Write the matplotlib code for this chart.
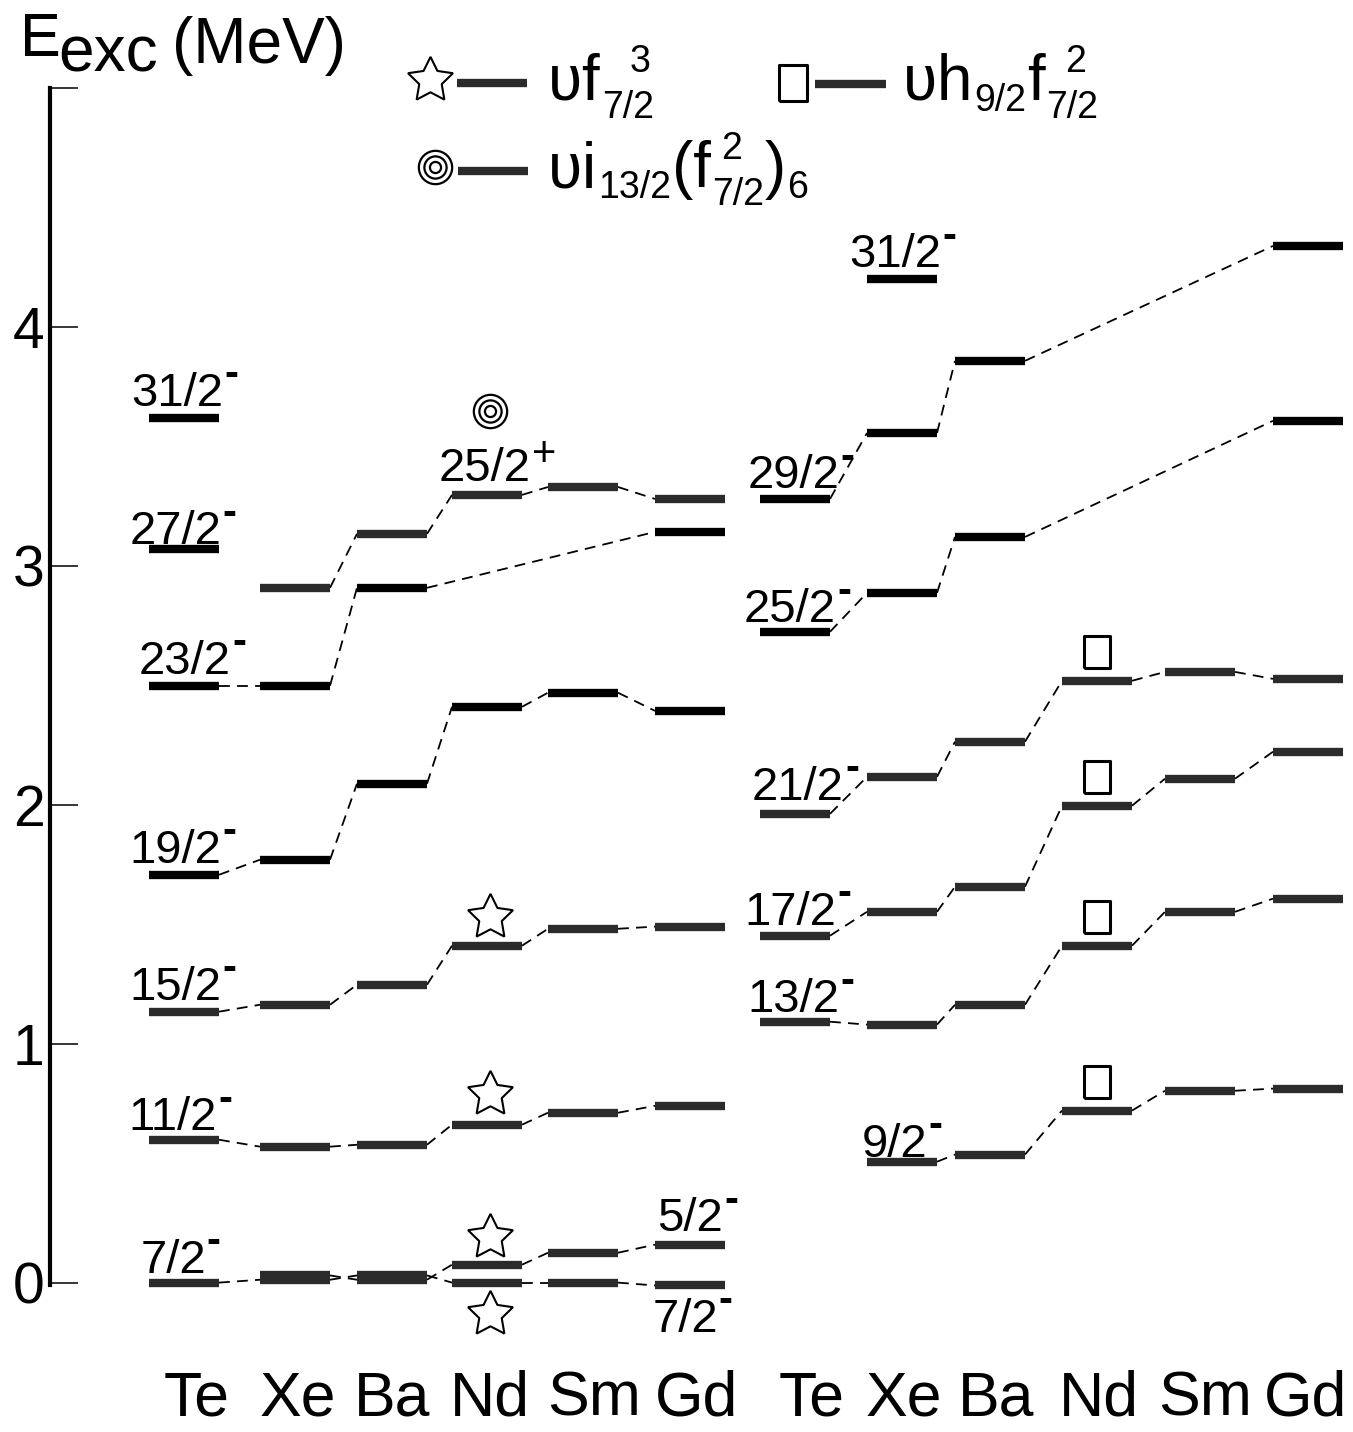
import matplotlib
matplotlib.use('Agg')
import matplotlib.pyplot as plt

plt.rcParams['font.family'] = ['Liberation Sans', 'DejaVu Sans']

# nuclei (columns) of both panels
nuclei = ['Te', 'Xe', 'Ba', 'Nd', 'Sm', 'Gd']

# level energies (MeV), left panel, one value per nucleus (None = not shown)
L7 = [0.0, 0.012, 0.03, 0.0, 0.0, -0.012]
L5 = [None, 0.03, 0.012, 0.075, 0.125, 0.159]
L11 = [0.598, 0.569, 0.577, 0.661, 0.711, 0.740]
L15 = [1.134, 1.163, 1.247, 1.410, 1.481, 1.490]
L19 = [1.707, 1.770, 2.088, 2.410, 2.469, 2.393]
L23 = [2.498, 2.498, 2.908, None, None, 3.142]
L25p = [None, 2.908, 3.134, 3.297, 3.330, 3.280]
L27 = [3.071, None, None, None, None, None]
L31 = [3.619, None, None, None, None, None]

# right panel
R9 = [None, 0.506, 0.536, 0.720, 0.803, 0.812]
R13 = [1.092, 1.080, 1.163, 1.410, 1.552, 1.607]
R17 = [1.452, 1.552, 1.657, 1.996, 2.109, 2.222]
R21 = [1.962, 2.117, 2.264, 2.519, 2.556, 2.527]
R25 = [2.724, 2.887, 3.121, None, None, 3.607]
R29 = [3.280, 3.556, 3.858, None, None, 4.339]
R31 = [None, 4.200, None, None, None, None]

# layout
W, H = 1353, 1432
cx_left = [184, 295, 392, 487, 583, 690]
cx_right = [795, 902, 990, 1097, 1200, 1308]
lab_left = [197, 298, 392, 490, 594, 697]
lab_right = [812, 904, 996, 1099, 1205, 1306]
half = 35
BLACK = '#000000'
GRAY = '#2b2b2b'
FAM = ['Liberation Sans', 'DejaVu Sans']
NARROW = ['Liberation Sans Narrow', 'Liberation Sans']

fig = plt.figure(figsize=(W / 100, H / 100), dpi=100)
ax = fig.add_axes([50 / W, (H - 1285) / H, (W - 50) / W, (1285 - 88) / H])
ax.set_xlim(50, W)
ax.set_ylim(-0.01, 5.0)
for s in ['top', 'right', 'bottom']:
    ax.spines[s].set_visible(False)
ax.spines['left'].set_linewidth(3)
ax.set_xticks([])
ax.set_yticks([0, 1, 2, 3, 4, 5])
ax.set_yticklabels(['0', '1', '2', '3', '4', ''])
ax.tick_params(axis='y', direction='in', length=20, width=1.1, labelsize=41, pad=4)
renderer = fig.canvas.get_renderer()


def width(t):
    return t.get_window_extent(renderer).width


def draw_chain(cx, vals, color):
    prev = None
    for i, e in enumerate(vals):
        if e is None:
            continue
        ax.plot([cx[i] - half, cx[i] + half], [e, e], color=color, lw=6,
                solid_capstyle='butt', clip_on=False, zorder=3)
        if prev is not None:
            j, ep = prev
            ax.plot([cx[j] + half, cx[i] - half], [ep, e], color='black', lw=1.3,
                    dashes=(6, 4), clip_on=False, zorder=2)
        prev = (i, e)


for vals, col in [(L7, GRAY), (L5, GRAY), (L11, GRAY), (L15, GRAY), (L19, BLACK),
                  (L23, BLACK), (L25p, GRAY), (L27, BLACK), (L31, BLACK)]:
    draw_chain(cx_left, vals, col)
for vals, col in [(R9, GRAY), (R13, GRAY), (R17, GRAY), (R21, GRAY),
                  (R25, BLACK), (R29, BLACK), (R31, BLACK)]:
    draw_chain(cx_right, vals, col)


def spin_label(x, y, num, sign):
    # number centred on x together with its raised parity sign
    t = ax.text(0, y, num, fontsize=34, ha='left', va='baseline', clip_on=False)
    if sign == '-':
        s = ax.text(0, y + 0.082, '-', fontsize=30, fontweight='bold', ha='left',
                    va='baseline', clip_on=False)
    else:
        s = ax.text(0, y + 0.06, '+', fontsize=30, ha='left', va='baseline', clip_on=False)
    wn, ws = width(t), width(s)
    x0 = x - (wn + ws) / 2
    t.set_x(x0)
    s.set_x(x0 + wn + 1)


labels = [
    ('7/2', '-', 180, L7[0], 0.04),
    ('11/2', '-', 180, L11[0], 0.04),
    ('15/2', '-', 182, L15[0], 0.05),
    ('19/2', '-', 182, L19[0], 0.05),
    ('23/2', '-', 192, L23[0], 0.05),
    ('27/2', '-', 182, L27[0], 0.02),
    ('31/2', '-', 184, L31[0], 0.05),
    ('25/2', '+', 497, L25p[3], 0.06),
    ('5/2', '-', 697, L5[5], 0.055),
    ('7/2', '-', 692, L7[5], -0.195),
    ('9/2', '-', 902, R9[1], 0.02),
    ('13/2', '-', 800, R13[0], 0.04),
    ('17/2', '-', 797, R17[0], 0.045),
    ('21/2', '-', 805, R21[0], 0.06),
    ('25/2', '-', 797, R25[0], 0.04),
    ('29/2', '-', 800, R29[0], 0.045),
    ('31/2', '-', 902, R31[1], 0.05),
]
for num, sign, x, e, dy in labels:
    spin_label(x, e + dy, num, sign)

# configuration markers at Nd
star = dict(marker=(5, 1, 0), ms=34, mfc='white', mec='black', mew=1.5,
            ls='none', clip_on=False, zorder=4)
for e in [L15[3] + 0.12, L11[3] + 0.13, L5[3] + 0.115]:
    ax.plot(cx_left[3] + 3, e, **star)
ax.plot(cx_left[3] + 3, L7[3] - 0.13, **star)

rect = [(-0.8, -1), (0.8, -1), (0.8, 1), (-0.8, 1), (-0.8, -1)]
sq = dict(marker=rect, ms=23, mfc='white', mec='black', mew=2.2, ls='none',
          clip_on=False, zorder=4)
for vals in [R21, R17, R13, R9]:
    ax.plot(cx_right[3], vals[3] + 0.12, **sq)


def target(a, x, y):
    for ms in [24, 16, 8]:
        a.plot(x, y, marker='o', ms=ms, mfc='white', mec='black', mew=1.6,
               ls='none', clip_on=False, zorder=4)


target(ax, cx_left[3] + 3, L25p[3] + 0.35)

# nucleus names
for i, n in enumerate(nuclei):
    ax.text(lab_left[i], -0.555, n, fontsize=45, ha='center', va='baseline', clip_on=False)
    ax.text(lab_right[i], -0.555, n, fontsize=45, ha='center', va='baseline', clip_on=False)

# title and legend in pixel coordinates
ov = fig.add_axes([0, 0, 1, 1])
ov.set_xlim(0, W)
ov.set_ylim(H, 0)
ov.axis('off')
ov.patch.set_alpha(0)

ov.text(20, 56, 'E', fontsize=44, va='baseline')
ov.text(58, 72, 'exc', fontsize=46, va='baseline')
ov.text(172, 63, '(MeV)', fontsize=46, va='baseline')

BIG, SMALL = 46, 27


def formula(x, y, parts):
    # parts: ('m', text) main, ('s', text) subscript,
    # ('ss', sup, sub, frac) stacked superscript over subscript
    for p in parts:
        if p[0] == 'm':
            t = ov.text(x, y, p[1], fontsize=BIG, va='baseline', family=FAM)
            x += width(t) + 1
        elif p[0] == 's':
            t = ov.text(x, y + 11, p[1], fontsize=SMALL, va='baseline', family=NARROW)
            x += width(t) + 1
        else:
            sub = ov.text(x, y + 18, p[2], fontsize=SMALL, va='baseline', family=NARROW)
            wsub = width(sub)
            sup = ov.text(x, y - 28, p[1], fontsize=SMALL, va='baseline', family=NARROW)
            sup.set_x(x + (wsub - width(sup)) * p[3])
            x += wsub + 1


ov.plot(430, 80, **dict(star, ms=34))
ov.plot([457, 527], [83, 83], color=GRAY, lw=6, solid_capstyle='butt')
formula(548, 100, [('m', 'ʋf'), ('ss', '3', '7/2', 0.9)])

target(ov, 435, 167)
ov.plot([458, 528], [171, 171], color=GRAY, lw=6, solid_capstyle='butt')
formula(548, 187, [('m', 'ʋi'), ('s', '13/2'), ('m', '(f'), ('ss', '2', '7/2', 0.3),
                   ('m', ')'), ('s', '6')])

ov.plot(793, 83, **dict(sq, ms=26))
ov.plot([815, 886], [84, 84], color=GRAY, lw=6, solid_capstyle='butt')
formula(903, 100, [('m', 'ʋh'), ('s', '9/2'), ('m', 'f'), ('ss', '2', '7/2', 0.6)])

fig.savefig('out.png', dpi=100)
